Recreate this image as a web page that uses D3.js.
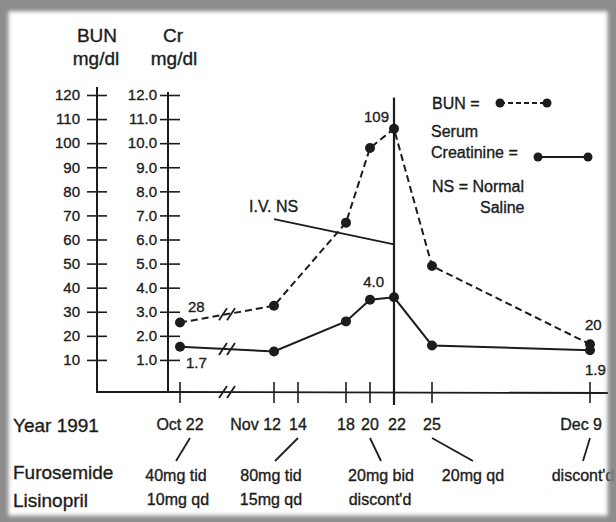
<!DOCTYPE html>
<html>
<head>
<meta charset="utf-8">
<script src="https://cdn.jsdelivr.net/npm/d3@7"></script>
<style>
  html, body { margin: 0; padding: 0; background: #fff; }
  svg { display: block; font-family: 'Liberation Sans', Arial, sans-serif; }
  /* scanned print looks a little heavier than plain regular weight */
  svg text { stroke: #1c1c1c; stroke-width: 0.35px; }
</style>
</head>
<body>
<div id="chart"></div>
<script>
// data
const pointDates = ['1991-10-22', '1991-11-12', '1991-11-18', '1991-11-20', '1991-11-22', '1991-11-25', '1991-12-09']
const bunValues = [25.5, 32.5, 67, 98, 106, 49, 16.5]
const crValues = [1.55, 1.35, 2.6, 3.5, 3.6, 1.6, 1.4]

const tickDates = ['1991-10-22', '1991-11-12', '1991-11-14', '1991-11-18', '1991-11-20', '1991-11-22', '1991-11-25', '1991-12-09']
const tickLabels = ['Oct 22', 'Nov 12', '14', '18', '20', '22', '25', 'Dec 9']
const bunTicks = [10, 20, 30, 40, 50, 60, 70, 80, 90, 100, 110, 120]
const crTicks = [1, 2, 3, 4, 5, 6, 7, 8, 9, 10, 11, 12]

// value call-outs written on the chart
const calloutDates = ['1991-10-22', '1991-10-22', '1991-11-22', '1991-11-22', '1991-12-09', '1991-12-09']
const calloutSeries = ['bun', 'cr', 'bun', 'cr', 'bun', 'cr']
const calloutText = ['28', '1.7', '109', '4.0', '20', '1.9']

// medication rows
const furosemideDates = ['1991-10-22', '1991-11-14', '1991-11-20', '1991-11-25', '1991-12-09']
const furosemideDoses = ['40mg tid', '80mg tid', '20mg bid', '20mg qd', "discont'd"]
const lisinoprilDates = ['1991-10-22', '1991-11-14', '1991-11-20']
const lisinoprilDoses = ['10mg qd', '15mg qd', "discont'd"]

const ivDate = '1991-11-22'
const parse = d3.timeParse('%Y-%m-%d')

const W = 616
const H = 522
const ink = '#1c1c1c'

const svg = d3.select('#chart').append('svg')
  .attr('width', W)
  .attr('height', H)

const defs = svg.append('defs')
defs.append('filter').attr('id', 'soft')
  .append('feGaussianBlur').attr('stdDeviation', 2.5)

// scanned page frame
svg.append('rect').attr('width', W).attr('height', H).attr('fill', '#8c8c8c')
svg.append('rect')
  .attr('x', 7).attr('y', 10).attr('width', 602).attr('height', 507)
  .attr('fill', '#fff')
  .attr('filter', 'url(#soft)')

const g = svg.append('g')

// scales: the time axis is broken and hand spaced, so use a piecewise scale
const x = d3.scaleTime()
  .domain(['1991-10-22', '1991-11-12', '1991-11-22', '1991-11-25', '1991-12-09'].map(parse))
  .range([180, 274, 394, 432, 590])
const yBun = d3.scaleLinear().domain([0, 120]).range([384, 95])
const yCr = d3.scaleLinear().domain([0, 12]).range([384, 95])

const bunAxisX = 97
const crAxisX = 168
const baseY = 392

// axis titles
const titles = g.append('g').attr('fill', ink).attr('font-size', 19).attr('text-anchor', 'middle')
titles.append('text').attr('x', 97).attr('y', 42).text('BUN')
titles.append('text').attr('x', 96).attr('y', 65).text('mg/dl')
titles.append('text').attr('x', 173).attr('y', 42).text('Cr')
titles.append('text').attr('x', 174).attr('y', 65).text('mg/dl')

// left axes
const bunAxis = g.append('g')
  .attr('transform', `translate(${bunAxisX},0)`)
  .call(d3.axisLeft(yBun).tickValues(bunTicks).tickFormat(d3.format('d')).tickSize(10).tickPadding(7))
bunAxis.select('.domain').remove()
bunAxis.selectAll('.tick line').attr('x1', 10).attr('stroke', ink).attr('stroke-width', 1.6)
bunAxis.selectAll('.tick text').attr('fill', ink).attr('font-size', 15).attr('font-family', null)

const crAxis = g.append('g')
  .attr('transform', `translate(${crAxisX},0)`)
  .call(d3.axisLeft(yCr).tickValues(crTicks).tickFormat(d3.format('.1f')).tickSize(8).tickPadding(3))
crAxis.select('.domain').remove()
crAxis.selectAll('.tick line').attr('x1', 12).attr('stroke', ink).attr('stroke-width', 1.6)
crAxis.selectAll('.tick text').attr('fill', ink).attr('font-size', 15).attr('font-family', null)

// axis spines joined along the bottom
g.append('path')
  .attr('d', `M${bunAxisX},${yBun(120) - 8}V${baseY}H${crAxisX}V${yCr(12) - 3}`)
  .attr('fill', 'none').attr('stroke', ink).attr('stroke-width', 2)
g.append('line')
  .attr('x1', crAxisX).attr('x2', 608).attr('y1', baseY).attr('y2', baseY + 1)
  .attr('stroke', ink).attr('stroke-width', 1.8)

// date ticks
g.selectAll('.xtick')
  .data(tickDates.filter(d => d !== ivDate))
  .join('line')
  .attr('class', 'xtick')
  .attr('x1', d => x(parse(d))).attr('x2', d => x(parse(d)))
  .attr('y1', baseY - 10).attr('y2', baseY + 11)
  .attr('stroke', ink).attr('stroke-width', 1.6)

// I.V. NS marker line at Nov 22
const ivX = x(parse(ivDate))
g.append('line')
  .attr('x1', ivX).attr('x2', ivX)
  .attr('y1', yBun(119)).attr('y2', baseY + 13)
  .attr('stroke', ink).attr('stroke-width', 2.2)
g.append('line')
  .attr('x1', x(parse('1991-11-12'))).attr('y1', yBun(68.5))
  .attr('x2', ivX).attr('y2', yBun(58))
  .attr('stroke', ink).attr('stroke-width', 1.8)
g.append('text')
  .attr('x', 249).attr('y', 212)
  .attr('fill', ink).attr('font-size', 16)
  .text('I.V. NS')

// series
const pts = pointDates.map((d, i) => ({ date: parse(d), bun: bunValues[i], cr: crValues[i] }))

g.append('path')
  .datum(pts)
  .attr('fill', 'none').attr('stroke', ink).attr('stroke-width', 2)
  .attr('stroke-dasharray', '7,4')
  .attr('d', d3.line().x(d => x(d.date)).y(d => yBun(d.bun)))
g.append('path')
  .datum(pts)
  .attr('fill', 'none').attr('stroke', ink).attr('stroke-width', 2)
  .attr('d', d3.line().x(d => x(d.date)).y(d => yCr(d.cr)))

g.selectAll('.bunDot').data(pts).join('circle')
  .attr('class', 'bunDot')
  .attr('cx', d => x(d.date)).attr('cy', d => yBun(d.bun)).attr('r', 5)
  .attr('fill', ink)
g.selectAll('.crDot').data(pts).join('circle')
  .attr('class', 'crDot')
  .attr('cx', d => x(d.date)).attr('cy', d => yCr(d.cr)).attr('r', 5)
  .attr('fill', ink)

// axis break marks ( // ) between Oct 22 and Nov 12
const breakX = (x(pts[0].date) + x(pts[1].date)) / 2
const breakYs = [
  (yBun(pts[0].bun) + yBun(pts[1].bun)) / 2,
  (yCr(pts[0].cr) + yCr(pts[1].cr)) / 2,
  baseY
]
breakYs.forEach(by => {
  [-4, 4].forEach(k => {
    g.append('line')
      .attr('x1', breakX + k - 4).attr('y1', by + 6)
      .attr('x2', breakX + k + 4).attr('y2', by - 6)
      .attr('stroke', ink).attr('stroke-width', 1.8)
  })
})

// value call-outs
const calloutOffsets = [[8, -11, 'start'], [6, 21, 'start'], [-5, -7, 'end'], [-10, -10, 'end'], [-5, -14, 'start'], [-5, 25, 'start']]
calloutDates.forEach((d, i) => {
  const p = pts.find(q => +q.date === +parse(d))
  const cy = calloutSeries[i] === 'bun' ? yBun(p.bun) : yCr(p.cr)
  const [dx, dy, anchor] = calloutOffsets[i]
  g.append('text')
    .attr('x', x(p.date) + dx).attr('y', cy + dy)
    .attr('text-anchor', anchor)
    .attr('fill', ink).attr('font-size', 15)
    .text(calloutText[i])
})

// legend
const leg = g.append('g').attr('fill', ink).attr('font-size', 16)
leg.append('text').attr('x', 432).attr('y', 109).text('BUN =')
leg.append('line').attr('x1', 500).attr('x2', 547).attr('y1', 103).attr('y2', 103)
  .attr('stroke', ink).attr('stroke-width', 1.8).attr('stroke-dasharray', '5,3')
leg.selectAll('.lb').data([500, 547]).join('circle').attr('class', 'lb')
  .attr('cx', d => d).attr('cy', 103).attr('r', 4.5)
leg.append('text').attr('x', 431).attr('y', 137).text('Serum')
leg.append('text').attr('x', 431).attr('y', 158).text('Creatinine =')
leg.append('line').attr('x1', 538).attr('x2', 588).attr('y1', 157).attr('y2', 157)
  .attr('stroke', ink).attr('stroke-width', 1.8)
leg.selectAll('.lc').data([538, 588]).join('circle').attr('class', 'lc')
  .attr('cx', d => d).attr('cy', 157).attr('r', 4.5)
leg.append('text').attr('x', 432).attr('y', 192).text('NS = Normal')
leg.append('text').attr('x', 480).attr('y', 213).text('Saline')

// bottom rows
const rows = g.append('g').attr('fill', ink)
rows.append('text').attr('x', 13).attr('y', 432).attr('font-size', 19).text('Year 1991')
rows.append('text').attr('x', 13).attr('y', 479).attr('font-size', 19).text('Furosemide')
rows.append('text').attr('x', 13).attr('y', 507).attr('font-size', 19).text('Lisinopril')

tickDates.forEach((d, i) => {
  const tx = x(parse(d))
  const hasMonth = tickLabels[i].includes(' ')
  rows.append('text')
    .attr('x', hasMonth && i > 0 ? tx + (i === tickLabels.length - 1 ? 12 : 7) : tx + (d === ivDate ? 3 : 0))
    .attr('y', 430)
    .attr('text-anchor', hasMonth && i > 0 ? 'end' : 'middle')
    .attr('font-size', 16)
    .text(tickLabels[i])
})

// dose labels, offset from their date so they do not collide
const furoShift = [-4, -27, 11, 41, -7]
const lisiShift = [-2, -27, 10]
furosemideDates.forEach((d, i) => {
  const tx = x(parse(d))
  const cx = tx + furoShift[i]
  rows.append('line')
    .attr('x1', tx + (i === 0 ? 10 : 0)).attr('y1', 438)
    .attr('x2', cx + (i === 1 ? 4 : 0)).attr('y2', 461)
    .attr('stroke', ink).attr('stroke-width', 1.8)
  rows.append('text')
    .attr('x', cx).attr('y', 481)
    .attr('text-anchor', 'middle').attr('font-size', 16)
    .text(furosemideDoses[i])
})
lisinoprilDates.forEach((d, i) => {
  rows.append('text')
    .attr('x', x(parse(d)) + lisiShift[i]).attr('y', 505)
    .attr('text-anchor', 'middle').attr('font-size', 16)
    .text(lisinoprilDoses[i])
})

// frame drawn over the content so the edge clips like the scan
svg.append('path')
  .attr('d', `M0,0H${W}V${H}H0Z M7,10V517H609V10Z`)
  .attr('fill-rule', 'evenodd')
  .attr('fill', '#8c8c8c')
  .attr('filter', 'url(#soft)')
</script>
</body>
</html>
